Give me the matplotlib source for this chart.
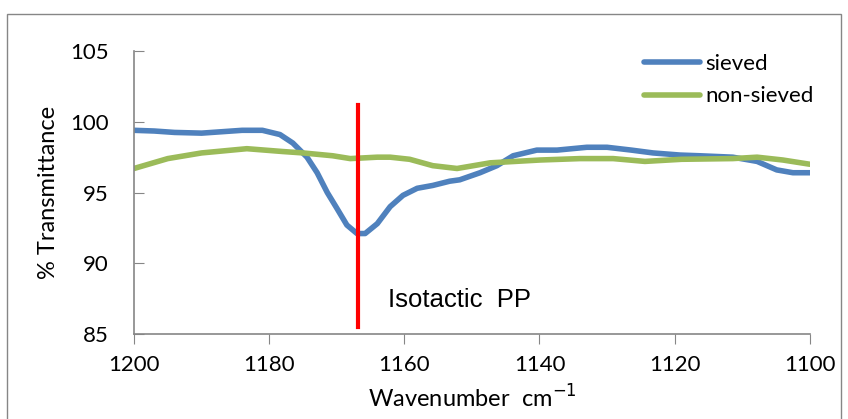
import matplotlib.pyplot as plt
from matplotlib.patches import Rectangle

# FTIR transmittance readings (wavenumber cm-1 -> % transmittance)
sieved_x = [1200, 1197, 1194, 1190, 1187, 1184, 1181, 1178.4, 1176.5, 1174.4, 1172.9,
            1171.4, 1170, 1168.5, 1167, 1165.8, 1164, 1162.1, 1160.2, 1158.1, 1155.8,
            1153.3, 1151.8, 1148.8, 1146.3, 1143.9, 1140.4, 1137.4, 1133, 1130, 1126.4,
            1123.2, 1119.2, 1116.3, 1111.4, 1107.8, 1104.9, 1102.5, 1100]
sieved_y = [99.4, 99.35, 99.25, 99.2, 99.3, 99.4, 99.4, 99.1, 98.5, 97.5, 96.4,
            95.0, 93.9, 92.7, 92.1, 92.1, 92.8, 94.0, 94.8, 95.3, 95.5,
            95.8, 95.9, 96.4, 96.9, 97.6, 98.0, 98.0, 98.2, 98.2, 98.0,
            97.8, 97.65, 97.6, 97.5, 97.2, 96.6, 96.4, 96.4]

nonsieved_x = [1200, 1195, 1190, 1183.3, 1178, 1175, 1170.6, 1168, 1164, 1162.1, 1159.2,
               1155.8, 1152.2, 1147.3, 1139.9, 1134, 1129.1, 1124.4, 1119, 1111.4,
               1107.8, 1104, 1100]
nonsieved_y = [96.7, 97.4, 97.8, 98.1, 97.9, 97.8, 97.6, 97.4, 97.5, 97.5, 97.35,
               96.9, 96.7, 97.1, 97.3, 97.4, 97.4, 97.2, 97.35, 97.4,
               97.5, 97.3, 97.0]

marker_x = 1166.9
marker_y = [85.5, 101.2]

plt.rcParams['font.family'] = ['Lato', 'DejaVu Sans']

fig = plt.figure(figsize=(8.48, 4.19), dpi=100)
ax = fig.add_axes([0.158, 0.203, 0.797, 0.675])

ax.plot(sieved_x, sieved_y, color='#4F81BD', lw=4, label='sieved',
        solid_capstyle='round', solid_joinstyle='round')
ax.plot(nonsieved_x, nonsieved_y, color='#9BBB59', lw=4, label='non-sieved',
        solid_capstyle='round', solid_joinstyle='round')
ax.plot([marker_x, marker_x], marker_y, color='#FF0000', lw=3)
ax.text(1162.4, 87.4, 'Isotactic  PP', fontsize=18.5, family='Liberation Sans', va='center', ha='left')

ax.set_xlim(1200, 1100)
ax.set_ylim(85, 105)
ax.set_xticks([1200, 1180, 1160, 1140, 1120, 1100])
ax.set_yticks([85, 90, 95, 100, 105])

for s in ['top', 'right']:
    ax.spines[s].set_visible(False)
for s in ['left', 'bottom']:
    ax.spines[s].set_color('#868686')
    ax.spines[s].set_linewidth(1.2)
ax.tick_params(axis='x', direction='out', length=7, color='#868686', labelsize=16, pad=8)
ax.tick_params(axis='y', direction='in', length=7, color='#868686', labelsize=16, pad=18)

ax.set_xlabel('Wavenumber  cm$^{-1}$', fontsize=17, labelpad=7)
ax.set_ylabel('% Transmittance', fontsize=17, labelpad=8)

ax.legend(loc='upper right', bbox_to_anchor=(1.035, 1.06), frameon=False, fontsize=16,
          handlelength=2.5, handletextpad=0.25, labelspacing=0.55)

fig.patches.append(Rectangle((0.008, -0.01), 0.984, 0.977, transform=fig.transFigure,
                             fill=False, edgecolor='#868686', lw=1))

fig.savefig('out.png', dpi=100)
